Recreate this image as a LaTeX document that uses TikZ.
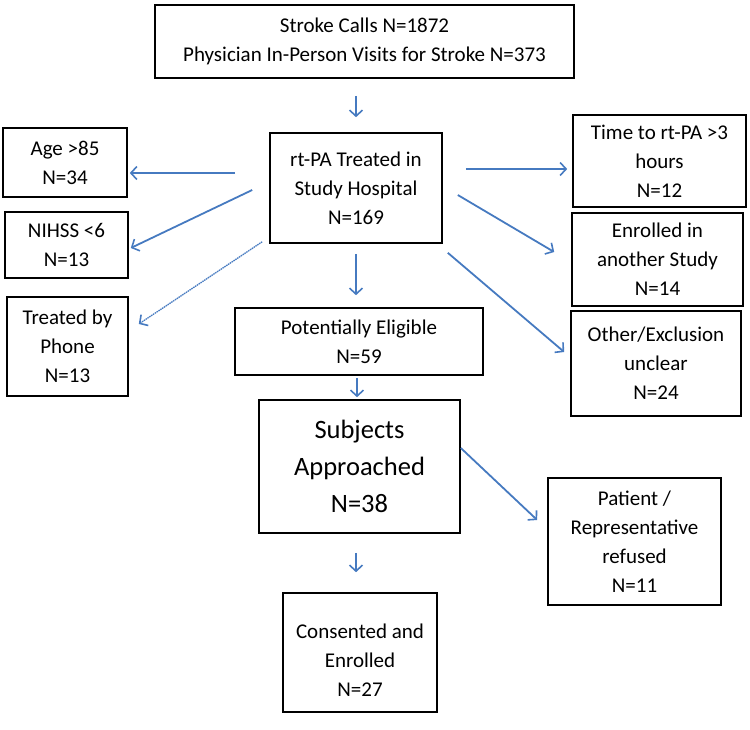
\documentclass[tikz,border=0pt]{standalone}
\usepackage{fontspec}
\setmainfont{Carlito}
\usepackage{tikz}
\usetikzlibrary{arrows.meta}
\definecolor{arrowblue}{RGB}{70,122,192}

\begin{document}
\begin{tikzpicture}
  [
    x=1pt, y=-1pt,
    box/.style={draw, line width=1.6pt, align=center, inner sep=2pt,
      font=\fontsize{21}{29}\selectfont},
    bigbox/.style={box, font=\fontsize{26.5}{37}\selectfont},
    arr/.style={draw=arrowblue, line width=1.8pt,
      -{Straight Barb[length=6pt,width=13pt,line width=1.6pt]}},
    thinarr/.style={arr, line width=1.3pt, dash pattern=on 1.5pt off 0.7pt}
  ]
  \useasboundingbox (0,0) rectangle (750,729);
  % main column
  \node [box, minimum width=419pt, minimum height=73pt] (calls) at (364.5,41.5)
    {Stroke Calls N=1872\\Physician In-Person Visits for Stroke N=373};
  \node [box, minimum width=172pt, minimum height=110pt] (rtpa) at (356,188)
    {rt-PA Treated in\\Study Hospital\\N=169};
  \node [box, minimum width=248pt, minimum height=67pt] (elig) at (359,341.5)
    {Potentially Eligible\\N=59};
  \node [bigbox, minimum width=201pt, minimum height=133pt] (subj) at (359.5,466.5)
    {Subjects\\Approached\\N=38};
  \node [box, minimum width=154pt, minimum height=119pt] (consent) at (360,652.5)
    {\mbox{}\\Consented and\\Enrolled\\N=27};
  % excluded, left
  \node [box, minimum width=124pt, minimum height=69pt] (age) at (65,162.5)
    {Age >85\\N=34};
  \node [box, minimum width=123pt, minimum height=66pt] (nihss) at (66.5,245)
    {NIHSS <6\\N=13};
  \node [box, minimum width=121pt, minimum height=99pt] (phone) at (67.5,346.5)
    {Treated by\\Phone\\N=13};
  % excluded, right
  \node [box, minimum width=173pt, minimum height=92pt] (time) at (659.5,161)
    {Time to rt-PA >3\\hours\\N=12};
  \node [box, minimum width=171pt, minimum height=93pt] (other study) at (657.5,259.5)
    {Enrolled in\\another Study\\N=14};
  \node [box, minimum width=170pt, minimum height=105pt] (unclear) at (656,363.5)
    {Other/Exclusion\\unclear\\N=24};
  \node [box, minimum width=173pt, minimum height=127pt] (refused) at (634.5,541.5)
    {Patient /\\Representative\\refused\\N=11};
  % flow arrows
  \draw [arr, shorten <=17pt, shorten >=15pt]
    (rtpa.north |- calls.south) -- (rtpa.north);
  \draw [arr, shorten <=10pt, shorten >=12pt]
    (rtpa.south) -- (rtpa.south |- elig.north);
  \draw [arr, shorten <=2pt, shorten >=2pt]
    ([xshift=-2pt]elig.south) -- ([xshift=-2pt]elig.south |- subj.north);
  \draw [arr, shorten <=19pt, shorten >=20pt]
    ([xshift=-4pt]consent.north |- subj.south) -- ([xshift=-4pt]consent.north);
  % exclusion arrows
  \draw [arr] ([xshift=-34pt,yshift=15pt]rtpa.west) -- ([xshift=2pt,yshift=-10.5pt]age.east);
  \draw [arr] ([xshift=-17pt,yshift=-2pt]rtpa.west) -- ([xshift=2pt,yshift=-3pt]nihss.east);
  \draw [thinarr] ([xshift=-7pt,yshift=2pt]rtpa.south west) -- ([xshift=10pt,yshift=22.5pt]phone.east);
  \draw [arr] ([xshift=23pt,yshift=19pt]rtpa.east) -- ([xshift=-5pt,yshift=-8pt]time.west);
  \draw [arr] ([xshift=15pt,yshift=-7pt]rtpa.east) -- ([xshift=-17pt,yshift=7.5pt]other study.west);
  \draw [arr] ([xshift=5pt,yshift=-9pt]rtpa.south east) -- ([xshift=-6pt,yshift=11.5pt]unclear.west);
  \draw [arr] ([yshift=18.5pt]subj.east) -- ([xshift=-10pt,yshift=21.5pt]refused.west);
\end{tikzpicture}
\end{document}
